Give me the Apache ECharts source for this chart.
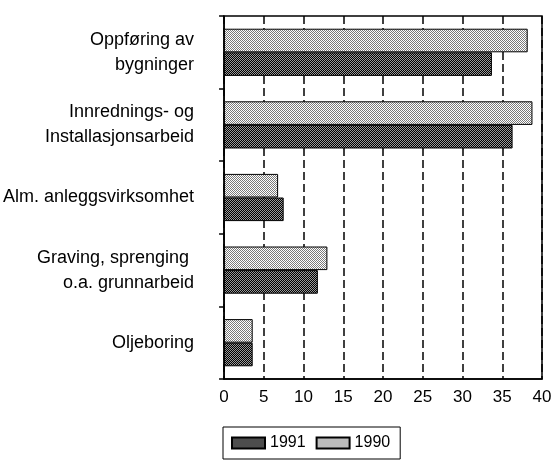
<!DOCTYPE html>
<html>
<head>
<meta charset="utf-8">
<script src="https://cdn.jsdelivr.net/npm/echarts@6/dist/echarts.min.js"></script>
<style>
  html, body { margin: 0; padding: 0; background: #fff; }
  #main { width: 556px; height: 463px; }
</style>
</head>
<body>
<div id="main"></div>
<script>
const categories = [
  "Oppføring av\nbygninger",
  "Innrednings- og\nInstallasjonsarbeid",
  "Alm. anleggsvirksomhet",
  "Graving, sprenging \no.a. grunnarbeid",
  "Oljeboring",
];
const values1990 = [38.2, 38.8, 6.8, 13.0, 3.6];
const values1991 = [33.7, 36.3, 7.5, 11.8, 3.6];
const xTicks = [0, 5, 10, 15, 20, 25, 30, 35, 40];

// small checker textures, like the print raster
function makePattern(a, b) {
  const c = document.createElement("canvas");
  c.width = 2;
  c.height = 2;
  const ctx = c.getContext("2d");
  ctx.fillStyle = a;
  ctx.fillRect(0, 0, 2, 2);
  ctx.fillStyle = b;
  ctx.fillRect(0, 0, 1, 1);
  ctx.fillRect(1, 1, 1, 1);
  return { image: c, repeat: "repeat" };
}
const light = makePattern("#ffffff", "#7a7a7a");
const dark = makePattern("#000000", "#9a9a9a");

const font = "Arial, 'Liberation Sans', Helvetica, sans-serif";
const myChart = echarts.init(document.getElementById("main"));
myChart.setOption({
  animation: false,
  textStyle: { fontFamily: font },
  grid: {
    left: 224,
    right: 14,
    top: 16,
    bottom: 84,
    show: true,
    borderColor: "#000",
    borderWidth: 1.5,
  },
  legend: {
    data: ["1991", "1990"],
    icon: "rect",
    left: 223,
    top: 427,
    orient: "horizontal",
    padding: [8, 10, 8, 8],
    itemGap: 10,
    itemWidth: 33,
    itemHeight: 11,
    borderColor: "#000",
    borderWidth: 1,
    textStyle: { fontSize: 16, color: "#000", fontFamily: font },
  },
  xAxis: {
    type: "value",
    min: 0,
    max: 40,
    interval: 5,
    axisLine: { show: true, lineStyle: { color: "#000", width: 1.5 } },
    axisTick: { show: false },
    axisLabel: {
      color: "#000",
      fontSize: 17,
      margin: 10,
      formatter: (v) => (xTicks.includes(v) ? String(v) : ""),
    },
    splitLine: {
      show: true,
      lineStyle: { color: "#000", width: 1.5, type: [8, 4] },
    },
  },
  yAxis: {
    type: "category",
    inverse: true,
    data: categories,
    axisLine: { show: true, lineStyle: { color: "#000", width: 1.5 } },
    axisTick: { show: true, length: 5, lineStyle: { color: "#000", width: 1.5 } },
    axisLabel: {
      color: "#000",
      fontSize: 18,
      lineHeight: 25,
      margin: 30,
      align: "right",
    },
  },
  series: [
    {
      name: "1990",
      type: "bar",
      data: values1990,
      barGap: "0%",
      barCategoryGap: "35%",
      itemStyle: { color: light, borderColor: "#000", borderWidth: 1 },
    },
    {
      name: "1991",
      type: "bar",
      data: values1991,
      barGap: "0%",
      barCategoryGap: "35%",
      itemStyle: { color: dark, borderColor: "#000", borderWidth: 1 },
    },
  ],
});
</script>
</body>
</html>
